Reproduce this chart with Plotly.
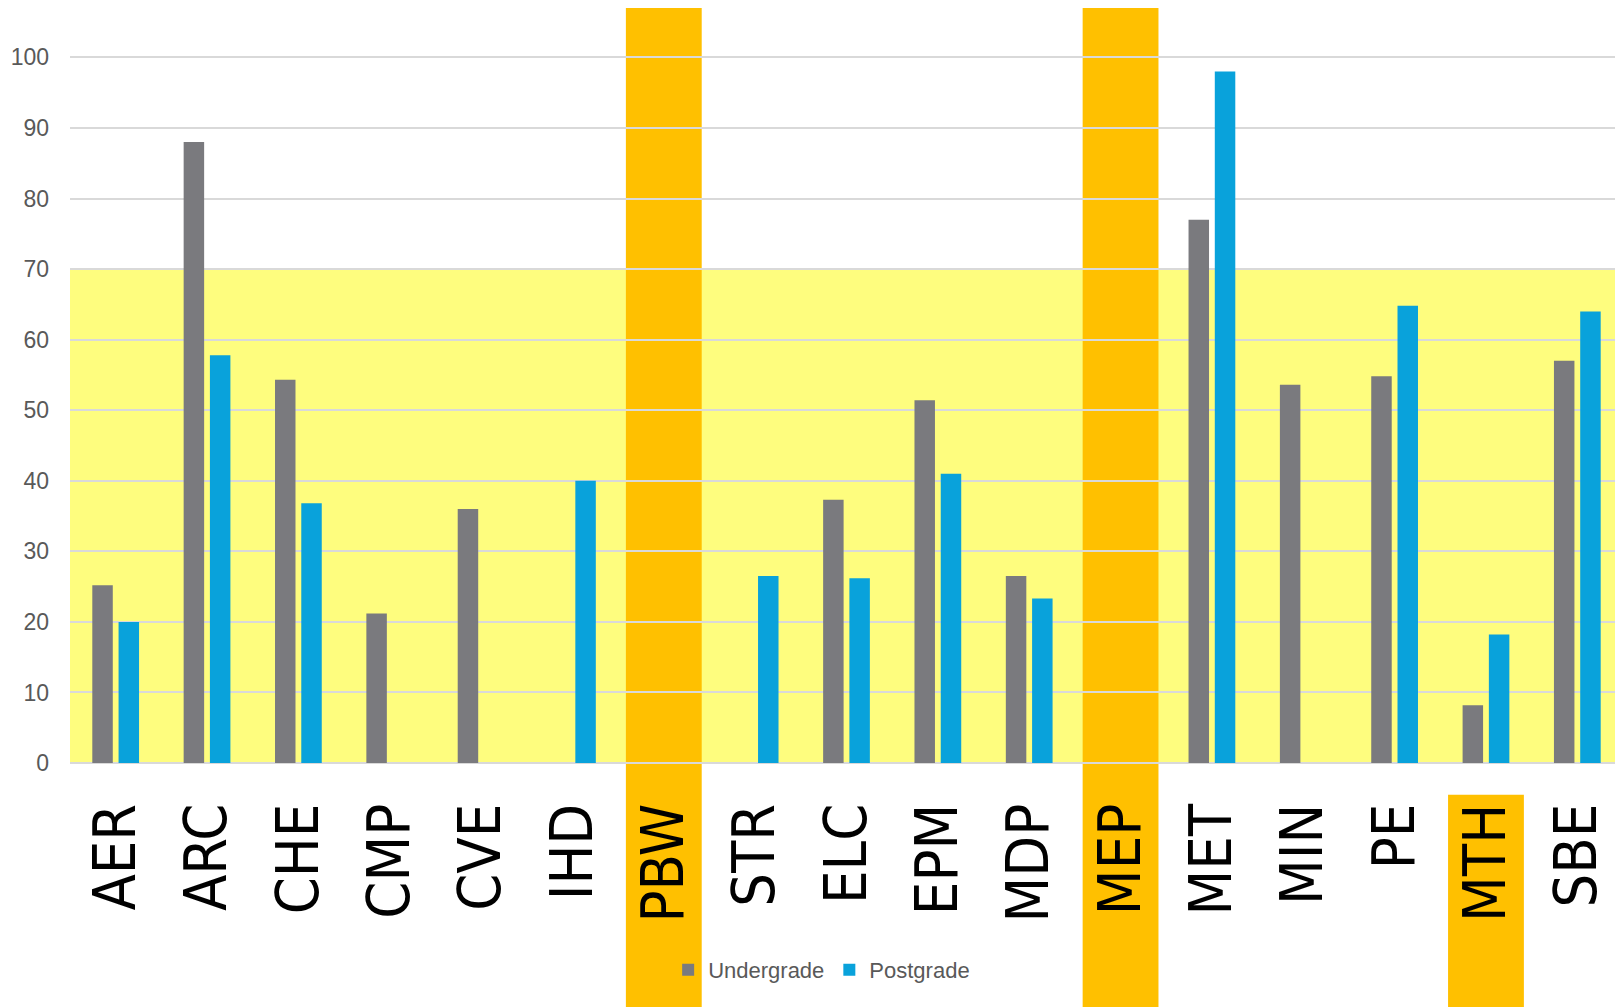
import plotly.graph_objects as go

categories = ["AER", "ARC", "CHE", "CMP", "CVE", "IHD", "PBW", "STR", "ELC",
              "EPM", "MDP", "MEP", "MET", "MIN", "PE", "MTH", "SBE"]
undergrade = [25.2, 88.0, 54.3, 21.2, 36.0, None, None, None, 37.3,
              51.4, 26.5, None, 77.0, 53.6, 54.8, 8.2, 57.0]
postgrade = [20.0, 57.8, 36.8, None, None, 40.0, None, 26.5, 26.2,
             41.0, 23.3, None, 98.0, None, 64.8, 18.2, 64.0]
highlight_full = ["PBW", "MEP"]
highlight_label = ["MTH"]
band_max = 70

GRAY = "#7a7a7e"
BLUE = "#09a2db"
YELLOW = "#fefd7e"
ORANGE = "#ffc000"

fig = go.Figure()
fig.add_trace(go.Bar(x=categories, y=undergrade, name="Undergrade",
                     marker=dict(color=GRAY, line=dict(width=0))))
fig.add_trace(go.Bar(x=categories, y=postgrade, name="Postgrade",
                     marker=dict(color=BLUE, line=dict(width=0))))

shapes = [dict(type="rect", xref="paper", yref="y", x0=0, x1=1, y0=0, y1=band_max,
               fillcolor=YELLOW, line=dict(width=0), layer="below")]
half = 0.415
for c in highlight_full:
    i = categories.index(c)
    shapes.append(dict(type="rect", xref="x", yref="paper", x0=i - half, x1=i + half,
                       y0=-0.34, y1=1, fillcolor=ORANGE, line=dict(width=0), layer="below"))
for c in highlight_label:
    i = categories.index(c)
    shapes.append(dict(type="rect", xref="x", yref="paper", x0=i - half, x1=i + half,
                       y0=-0.34, y1=-0.042, fillcolor=ORANGE, line=dict(width=0), layer="below"))

fig.update_layout(
    width=1615, height=999,
    margin=dict(l=62, r=0, t=0, b=244),
    paper_bgcolor="white", plot_bgcolor="white",
    barmode="group", bargap=0.425, bargroupgap=0.22,
    shapes=shapes,
    showlegend=True,
    legend=dict(orientation="h", x=0.484, xanchor="center", y=-0.274, yanchor="middle",
                font=dict(family="Liberation Sans, Arial, sans-serif",
                          size=22, color="#595959"),
                bgcolor="rgba(0,0,0,0)", itemwidth=30, traceorder="normal"),
    xaxis=dict(tickangle=-90, showgrid=False, showline=False, zeroline=False,
               tickfont=dict(family="DejaVu Sans Condensed, Liberation Sans, sans-serif",
                             size=59, color="black"),
               ticks="", ticklabelstandoff=28, range=[-0.5, 16.5]),
    yaxis=dict(range=[0, 107], dtick=10, tick0=0, showgrid=True,
               gridcolor="#d9d9d9", gridwidth=2, zeroline=True,
               zerolinecolor="#d9d9d9", zerolinewidth=2, showline=False,
               tickfont=dict(family="Liberation Sans, Arial, sans-serif", size=23,
                             color="#595959"),
               ticks="", ticklabelstandoff=20),
)

fig.write_html("out.html")
